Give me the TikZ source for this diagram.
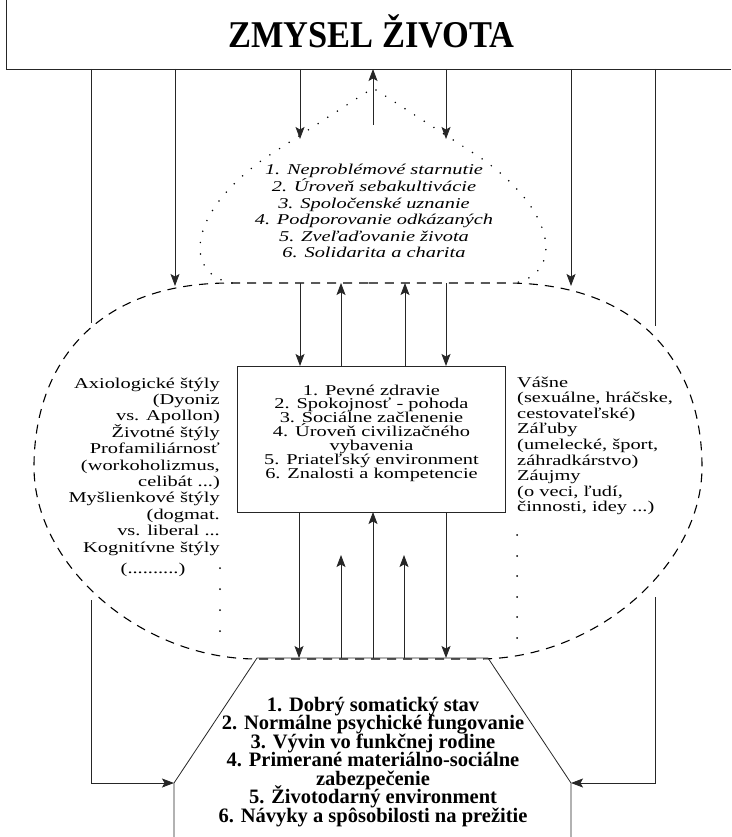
\documentclass[tikz,border=0pt]{standalone}
\usepackage{fontspec}
\setmainfont{Liberation Serif}
\newfontfamily\bodyf[FakeStretch=1.36]{Liberation Serif}
\newfontfamily\boldf[FakeStretch=0.91]{Liberation Serif}
\usetikzlibrary{arrows.meta}
\newcommand\mydots{...}
\begin{document}
\begin{tikzpicture}[x=1pt,y=-1pt,
  ln/.style={line width=0.8pt, draw=black!85},
  arr/.style={ln, -{Stealth[length=12pt,width=9pt,inset=2.5pt]}},
  dashedline/.style={line width=1.1pt, dash pattern=on 9pt off 7pt},
  dottedline/.style={line width=1.7pt, line cap=round, dash pattern=on 0pt off 11.5pt},
  body/.style={inner sep=0pt, text height=9.5pt, text depth=3pt, font={\bodyf\fontsize{15}{16}\selectfont}},
  bodyit/.style={inner sep=0pt, text height=10pt, text depth=3.5pt, font={\bodyf\itshape\fontsize{15}{16}\selectfont}},
  boldt/.style={inner sep=0pt, text height=13pt, text depth=4.5pt, font={\bfseries\fontsize{20.5}{18.5}\selectfont}},
  dotmark/.style={fill=black, circle, inner sep=0pt, minimum size=2pt}]
\useasboundingbox (0,0) rectangle (731,837);

% top frame
\coordinate (tl0) at (6,0);
\coordinate (tl1) at (6,69);
\coordinate (tr) at (731,69);
\draw[ln] (tl0) -- (tl1) -- (tr);
\node[anchor=base, inner sep=0pt, font={\boldf\bfseries\fontsize{37.8}{40}\selectfont}] (title) at (371.5,48) {ZMYSEL ŽIVOTA};

% dashed oval
\draw[dashedline] (368,283) -- (230,283) .. controls (95,283) and (34,365) .. (34,467)
  .. controls (34,565) and (140,659) .. (257,659) -- (479,659)
  .. controls (596,659) and (702,565) .. (702,467)
  .. controls (702,365) and (641,283) .. (506,283) -- cycle;

% dotted dome
\draw[dottedline] (232,283) .. controls (185,275) and (185,215) .. (265,158) -- (373,88)
  -- (481,158) .. controls (561,215) and (561,275) .. (514,283);

% box
\node[ln, draw, minimum width=268pt, minimum height=146pt, anchor=north west, inner sep=0pt] (box) at (237,366) {};

% trapezoid
\coordinate (tz1) at (174,837);
\coordinate (tz2) at (174,783);
\coordinate (tz3) at (257,658);
\coordinate (tz4) at (488,658);
\coordinate (tz5) at (571,783);
\coordinate (tz6) at (571,837);
\draw[ln] (tz1) -- (tz2) -- (tz3) -- (tz4) -- (tz5) -- (tz6);

% coordinates for connectors
\coordinate (a1) at (91,69);   \coordinate (a2) at (91,323);
\coordinate (b1) at (655,69);  \coordinate (b2) at (655,326);
\coordinate (c1) at (175,69);  \coordinate (c2) at (175,286);
\coordinate (d1) at (571,69);  \coordinate (d2) at (571,286);
\coordinate (e1) at (300,69);  \coordinate (e2) at (300,139);
\coordinate (f1) at (446,69);  \coordinate (f2) at (446,139);
\coordinate (g1) at (373,125); \coordinate (g2) at (373,69);
\coordinate (h1) at (300,283); \coordinate (h2) at (300,366);
\coordinate (i1) at (341,366); \coordinate (i2) at (341,283);
\coordinate (j1) at (405,366); \coordinate (j2) at (405,283);
\coordinate (k1) at (446,283); \coordinate (k2) at (446,366);
\coordinate (m1) at (299,512); \coordinate (m2) at (299,658);
\coordinate (n1) at (341,658); \coordinate (n2) at (341,555);
\coordinate (o1) at (373,658); \coordinate (o2) at (373,512);
\coordinate (p1) at (404,658); \coordinate (p2) at (404,555);
\coordinate (q1) at (446,512); \coordinate (q2) at (446,658);
\coordinate (r1) at (91,600);  \coordinate (r2) at (91,783);
\coordinate (s1) at (655,597); \coordinate (s2) at (655,783);

\draw[ln] (a1) -- (a2);
\draw[ln] (b1) -- (b2);
\draw[arr] (c1) -- (c2);
\draw[arr] (d1) -- (d2);
\draw[arr] (e1) -- (e2);
\draw[arr] (f1) -- (f2);
\draw[arr] (g1) -- (g2);
\draw[arr] (h1) -- (h2);
\draw[arr] (i1) -- (i2);
\draw[arr] (j1) -- (j2);
\draw[arr] (k1) -- (k2);
\draw[arr] (m1) -- (m2);
\draw[arr] (n1) -- (n2);
\draw[arr] (o1) -- (o2);
\draw[arr] (p1) -- (p2);
\draw[arr] (q1) -- (q2);
\draw[arr] (r1) -- (r2) -- (tz2);
\draw[arr] (s1) -- (s2) -- (tz5);

% dome text
\foreach \s [count=\i] in {{1. Neproblémové starnutie},{2. Úroveň sebakultivácie},{3. Spoločenské uznanie},{4. Podporovanie odkázaných},{5. Zveľaďovanie života},{6. Solidarita a charita}}
  \node[bodyit, anchor=base] (dome\i) at (374,{175+16.5*(\i-1)}) {\s};

% box text
\foreach \s [count=\i] in {{1. Pevné zdravie},{2. Spokojnosť - pohoda},{3. Sociálne začlenenie},{4. Úroveň civilizačného},{vybavenia},{5. Priateľský environment},{6. Znalosti a kompetencie}}
  \node[body, text height=8.5pt, text depth=3pt, anchor=base] (bx\i) at (371.5,{395+13.9*(\i-1)}) {\s};

% left text
\foreach \s [count=\i] in {{Axiologické štýly},{(Dyoniz},{vs. Apollon)},{Životné štýly},{Profamiliárnosť},{(workoholizmus,},{celibát \mydots)},{Myšlienkové štýly},{(dogmat.},{vs. liberal \mydots},{Kognitívne štýly}}
  \node[body, anchor=base east] (lt\i) at (220,{388+16.4*(\i-1)}) {\s};
\node[body, anchor=base] (lt12) at (153,573) {(..........)};
\foreach \y [count=\i] in {568,589,610,631}
  \node[dotmark] (ld\i) at (220,\y) {};

% right text
\foreach \s [count=\i] in {{Vášne},{(sexuálne, hráčske,},{cestovateľské)},{Záľuby},{(umelecké, šport,},{záhradkárstvo)},{Záujmy},{(o veci, ľudí,},{činnosti, idey \mydots)}}
  \node[body, anchor=base west] (rt\i) at (517,{387+15.6*(\i-1)}) {\s};
\foreach \y [count=\i] in {535,556,576,597,617,638}
  \node[dotmark] (rd\i) at (517,\y) {};

% bottom text
\foreach \s [count=\i] in {{1. Dobrý somatický stav},{2. Normálne psychické fungovanie},{3. Vývin vo funkčnej rodine},{4. Primerané materiálno-sociálne},{zabezpečenie},{5. Životodarný environment},{6. Návyky a spôsobilosti na prežitie}}
  \node[boldt, anchor=base] (bt\i) at (373,{711+18.5*(\i-1)}) {\s};
\end{tikzpicture}
\end{document}
